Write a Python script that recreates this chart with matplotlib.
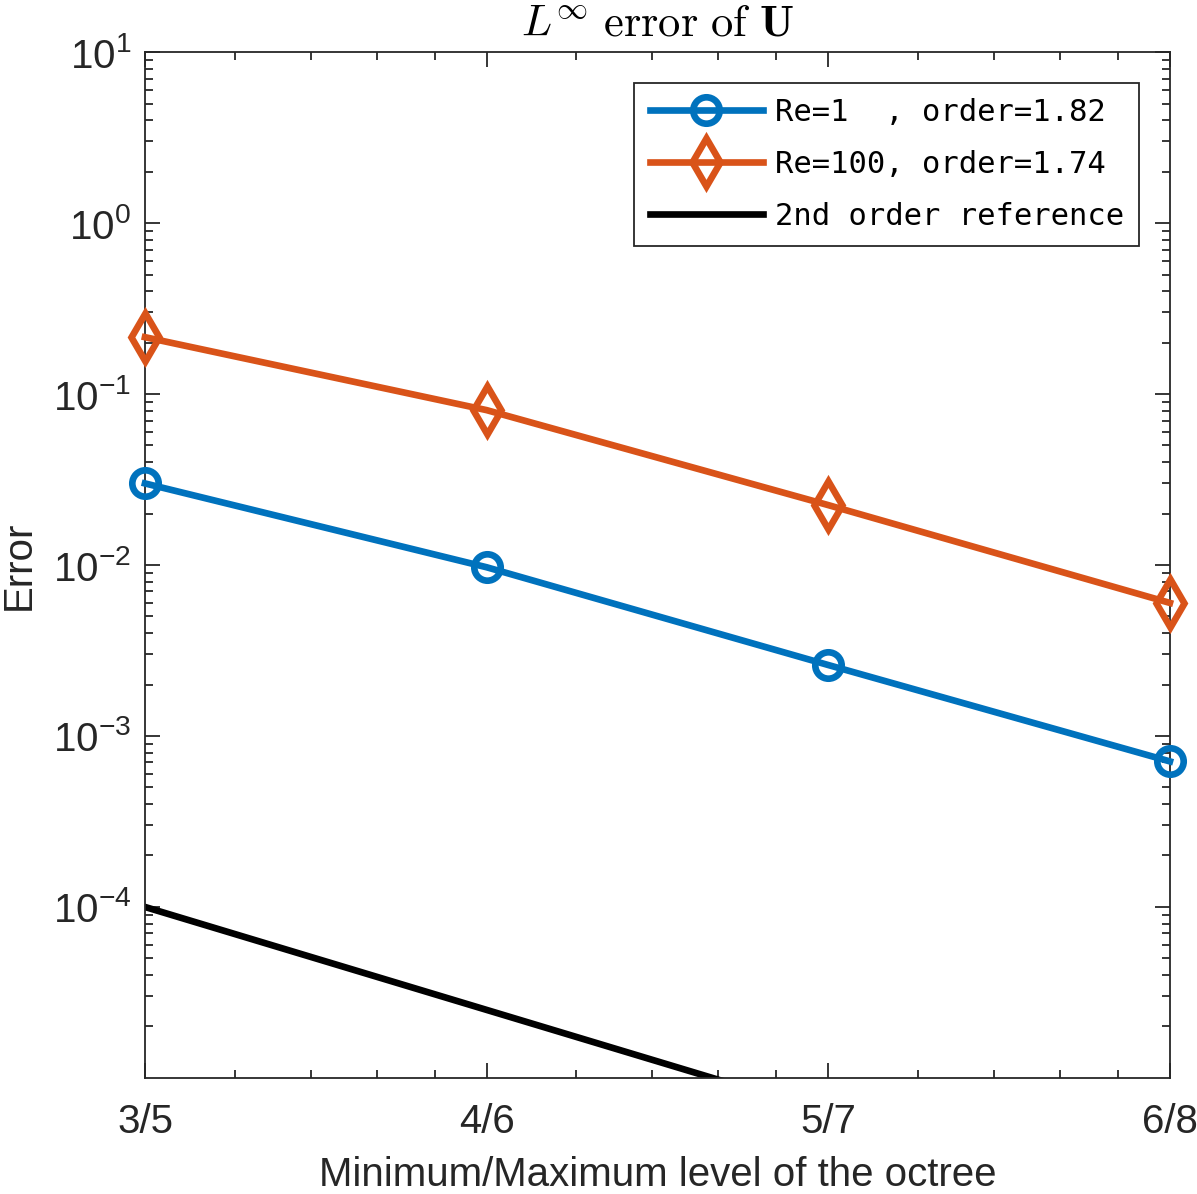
import matplotlib
matplotlib.use("Agg")
import matplotlib.pyplot as plt
from matplotlib.ticker import FixedLocator, NullFormatter, LogLocator

# x positions are the number of cells at the max level (2^max_level)
levels = ['3/5', '4/6', '5/7', '6/8']
n_cells = [32, 64, 128, 256]

err_re1 = [0.0300, 0.0097, 0.0026, 0.00071]
err_re100 = [0.215, 0.0805, 0.0224, 0.0060]
ref_2nd = [1.0e-4, 2.5e-5, 6.25e-6, 1.5625e-6]

ytick_vals = [1e-4, 1e-3, 1e-2, 1e-1, 1e0, 1e1]
ytick_labels = ['$\\mathdefault{10^{-4}}$', '$\\mathdefault{10^{-3}}$',
                '$\\mathdefault{10^{-2}}$', '$\\mathdefault{10^{-1}}$',
                '$\\mathdefault{10^{0}}$', '$\\mathdefault{10^{1}}$']

blue = '#0072BD'
orange = '#D95319'
axcol = '#262626'

plt.rcParams['mathtext.fontset'] = 'cm'
plt.rcParams['axes.unicode_minus'] = False

fig = plt.figure(figsize=(11.97, 11.94), dpi=100)
ax = fig.add_axes([0.1211, 0.0972, 0.8563, 0.8592])

ax.plot(n_cells, err_re1, '-o', color=blue, lw=4.8, ms=19, mew=4.8,
        mfc='none', label='Re=1  , order=1.82', clip_on=False, zorder=3)
ax.plot(n_cells, err_re100, '-d', color=orange, lw=4.8, ms=24, mew=4.8,
        mfc='none', label='Re=100, order=1.74', clip_on=False, zorder=3)
ax.plot(n_cells, ref_2nd, '-', color='black', lw=4.8,
        label='2nd order reference')

ax.set_xscale('log')
ax.set_yscale('log')
ax.set_xlim(32, 256)
ax.set_ylim(1e-5, 10)

ax.xaxis.set_major_locator(FixedLocator(n_cells))
ax.set_xticklabels(levels)
minor_x = [n * f for n in n_cells[:-1] for f in (1.2, 1.4, 1.6, 1.8)]
ax.xaxis.set_minor_locator(FixedLocator(minor_x))
ax.xaxis.set_minor_formatter(NullFormatter())

ax.yaxis.set_major_locator(FixedLocator(ytick_vals))
ax.set_yticklabels(ytick_labels)
ax.yaxis.set_minor_locator(LogLocator(base=10, subs=range(2, 10), numticks=20))
ax.yaxis.set_minor_formatter(NullFormatter())

ax.tick_params(which='both', direction='in', top=True, right=True,
               colors=axcol, width=1.3)
ax.tick_params(which='major', length=11, labelsize=29)
ax.tick_params(which='minor', length=5.5)
ax.tick_params(axis='x', which='major', pad=18)
ax.tick_params(axis='y', which='major', pad=10)
for lab in ax.get_xticklabels() + ax.get_yticklabels():
    lab.set_family('Liberation Sans')
for sp in ax.spines.values():
    sp.set_color(axcol)
    sp.set_linewidth(1.3)

ax.set_xlabel('Minimum/Maximum level of the octree', fontsize=29,
              family='Liberation Sans', color=axcol, labelpad=11)
ax.set_ylabel('Error', fontsize=29, family='Liberation Sans', color=axcol,
              labelpad=11)
ax.set_title(r'$L^{\infty}\ \mathrm{error\ of}\ \mathbf{U}$', fontsize=32,
             pad=12)

leg = ax.legend(loc='upper right', prop={'family': 'DejaVu Sans Mono', 'size': 22},
                fancybox=False, edgecolor=axcol, framealpha=1,
                handlelength=3.7, handletextpad=0.4, labelspacing=0.75,
                borderaxespad=1.0, borderpad=0.5)
leg.get_frame().set_linewidth(1.3)

fig.savefig('out.png', dpi=100)
